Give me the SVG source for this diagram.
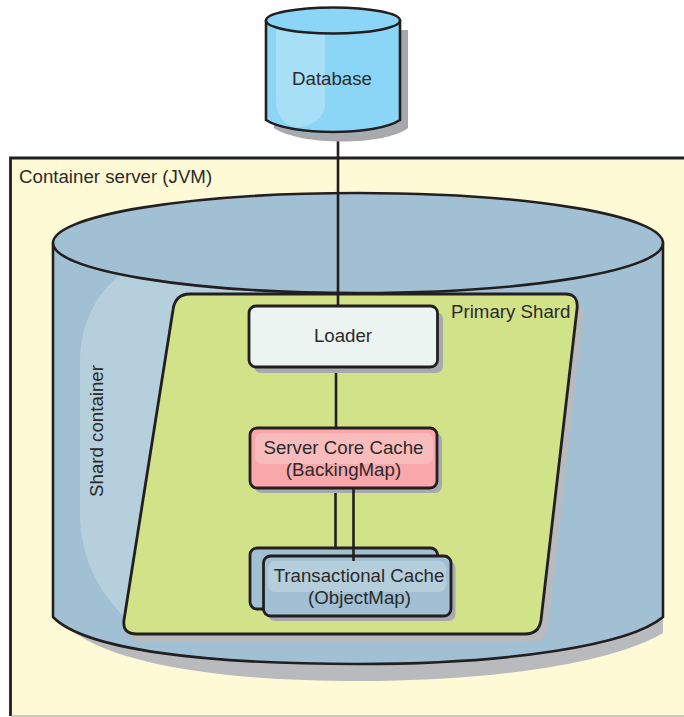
<svg xmlns="http://www.w3.org/2000/svg" width="684" height="717" viewBox="0 0 684 717">
  <style>
    text { font-family: "Liberation Sans", Arial, sans-serif; font-size: 18.7px; fill: #2b2a2b; }
    .mid { text-anchor: middle; }
    .ln { stroke: #231f20; stroke-width: 2.6; fill: none; }
    .box { stroke: #231f20; stroke-width: 2.8; }
    .shadow { fill: #b9babd; stroke: none; }
  </style>
  <g id="container-server">
    <rect x="10.5" y="158" width="680" height="558" fill="#fffad6"/>
    <path d="M684 158H10.5V716" fill="none" stroke="#231f20" stroke-width="2.8"/>
    <path d="M11 716H684" fill="none" stroke="#97978a" stroke-width="1.2"/>
    <text x="19" y="182.500">Container server (JVM)</text>
  </g>
  <g id="shard-container">
    <path class="shadow" d="M74 632C120 666 230 681 358 681C490 681 610 664 663 633V600H74Z"/>
    <path d="M53 243V617C85 650 205 664 358 664C510 664 630 645 663 617V243Z" fill="#a2c0d3"/>
    <path d="M120 275C95 295 80 325 80 362V512C80 560 100 595 130 622L300 640V280Z" fill="#b6cfdc"/>
    <path class="ln" d="M53 243V617C85 650 205 664 358 664C510 664 630 645 663 617V243"/>
    <ellipse cx="358" cy="243" rx="305" ry="50" fill="#a2c0d3" stroke="#231f20" stroke-width="2.6"/>
    <text class="mid" transform="translate(103 431) rotate(-90)">Shard container</text>
  </g>
  <g id="primary-shard">
    <path class="shadow" d="M194 302H572Q585 302 583 318L548 627Q546 642 532 642H142Q127 642 130 627L172 318Q175 302 194 302Z"/>
    <path d="M190 294H565Q579 294 577 309L541 620Q539 634 525 634H137Q122 634 124 620L173 310Q175 294 190 294Z" fill="#d2e288" stroke="#231f20" stroke-width="2.8"/>
    <text x="451" y="317.500">Primary Shard</text>
  </g>
  <g id="connectors">
    <path class="ln" d="M338 132V306"/>
    <path class="ln" d="M336 367V428"/>
    <path class="ln" d="M335.500 488V548"/>
  </g>
  <g id="database">
    <path d="M274 30V128C300 146 385 146 408 128V30Z" fill="#a8a9ad"/>
    <path d="M266 20V120C290 138 376 138 400 120V20Z" fill="#8bd5f7"/>
    <path d="M276 30H325V105C325 118 310 127 298 127C285 127 276 115 276 100Z" fill="#a7dff6"/>
    <path class="ln" d="M266 20V120C290 136 376 136 400 120V20"/>
    <ellipse cx="333" cy="20.500" rx="67" ry="13" fill="#8bd5f7" stroke="#231f20" stroke-width="2.6"/>
    <text class="mid" x="332" y="85">Database</text>
  </g>
  <g id="loader">
    <rect x="254" y="312" width="189" height="61" rx="7" fill="#a8a9ad"/>
    <rect class="box" x="249" y="306" width="188.500" height="61" rx="7" fill="#ecf4f2"/>
    <text class="mid" x="343" y="342">Loader</text>
  </g>
  <g id="server-core-cache">
    <rect x="255" y="433" width="187" height="60" rx="7" fill="#a8a9ad"/>
    <rect class="box" x="250" y="428" width="187" height="60" rx="7" fill="#f9a7ab"/>
    <rect x="255" y="433" width="178" height="31" rx="7" fill="#f8bcbd"/>
    <text class="mid" x="343.500" y="454">Server Core Cache</text>
    <text class="mid" x="343.500" y="476">(BackingMap)</text>
  </g>
  <g id="transactional-cache-back">
    <rect class="box" x="250" y="548" width="187.500" height="61" rx="7" fill="#a2c0d3"/>
  </g>
  <g id="transactional-cache">
    <rect x="268" y="561" width="187.500" height="60" rx="7" fill="#a8a9ad"/>
    <rect class="box" x="263.500" y="556" width="187.500" height="60" rx="7" fill="#a2c0d3"/>
    <rect x="268" y="561" width="178" height="31" rx="7" fill="#b5cedc"/>
    <text class="mid" x="359" y="582">Transactional Cache</text>
    <text class="mid" x="359.500" y="604">(ObjectMap)</text>
  </g>
  <g id="connector-front">
    <path class="ln" d="M353.500 488V561"/>
  </g>
</svg>
